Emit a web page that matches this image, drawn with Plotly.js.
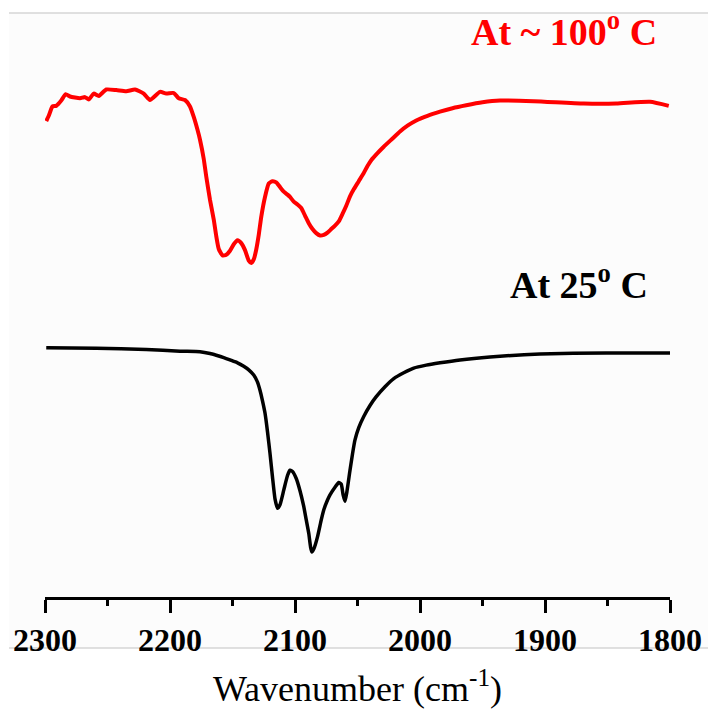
<!DOCTYPE html>
<html>
<head>
<meta charset="utf-8">
<script src="https://cdn.plot.ly/plotly-3.0.1.min.js"></script>
<style>
  html, body { margin: 0; padding: 0; background: #ffffff; }
  #chart { width: 708px; height: 709px; }
</style>
</head>
<body>
<div id="chart"></div>
<script>
// FTIR spectra (offset transmittance, arbitrary units) in the C≡N / CO stretching region

// Spectrum recorded at ~100 °C
const wnHot = [2299, 2297, 2294, 2291, 2287, 2283.5, 2280, 2272, 2268, 2265, 2261, 2257, 2251,
  2243, 2235, 2228, 2221, 2216, 2208, 2203, 2197, 2193, 2188, 2184, 2181, 2178, 2176, 2173,
  2171, 2168, 2165, 2163, 2161, 2158, 2155, 2152, 2149, 2146, 2143, 2140, 2137, 2135, 2133,
  2131, 2129, 2127, 2124, 2121, 2118, 2115, 2112, 2109, 2106, 2104, 2101, 2098, 2095, 2092,
  2089, 2086, 2083, 2080, 2077, 2074, 2071, 2068, 2065, 2062, 2059, 2056, 2053, 2049, 2045,
  2042, 2039, 2034, 2029, 2022, 2016, 2010, 2003, 1994, 1984, 1974, 1963, 1950, 1936, 1909,
  1869, 1843, 1816, 1801];
const tHot = [81.5, 82.4, 84.0, 84.1, 85.0, 86.1, 85.7, 85.4, 85.6, 85.2, 86.2, 85.8, 86.9,
  86.8, 86.6, 86.9, 86.2, 85.1, 86.5, 86.2, 86.3, 85.4, 85.1, 84.0, 82.2, 80.0, 78.3, 75.0,
  72.0, 68.0, 64.6, 61.8, 59.6, 58.5, 58.6, 59.3, 60.4, 61.1, 60.6, 59.4, 57.6, 57.2, 57.8,
  59.5, 62.0, 65.1, 68.5, 70.8, 71.2, 71.0, 70.2, 69.4, 68.9, 68.5, 67.7, 67.2, 66.6, 65.3,
  64.0, 63.0, 62.3, 61.9, 62.0, 62.4, 63.0, 63.6, 64.3, 65.6, 67.0, 68.6, 69.8, 71.2, 72.6,
  73.8, 74.8, 76.0, 77.1, 78.5, 79.7, 80.7, 81.6, 82.4, 83.1, 83.7, 84.2, 84.7, 85.0, 84.9,
  84.5, 84.5, 84.8, 84.1];

// Spectrum recorded at 25 °C
const wnRT = [2299, 2259, 2219, 2192, 2176, 2168, 2163, 2157, 2152, 2146, 2141, 2137, 2133,
  2130, 2128, 2126, 2124, 2122, 2120, 2118, 2116, 2114, 2112, 2109, 2106, 2104, 2102, 2099,
  2096, 2093, 2091, 2089, 2087.5, 2086.5, 2085, 2082, 2079, 2077, 2074, 2072, 2068, 2065,
  2063, 2061.5, 2060, 2058.5, 2056, 2054, 2052, 2049, 2045, 2040, 2035, 2028, 2021, 2013,
  2005, 1995, 1984, 1968, 1944, 1904, 1851, 1800];
const tRT = [42.7, 42.6, 42.4, 42.1, 42.0, 41.7, 41.4, 41.0, 40.6, 40.1, 39.5, 38.9, 38.0,
  36.8, 35.4, 33.6, 31.5, 28.3, 24.6, 20.5, 16.8, 15.2, 15.8, 18.3, 20.8, 21.7, 21.5, 20.3,
  18.2, 15.5, 13.2, 10.9, 8.5, 7.7, 8.2, 10.3, 13.2, 14.9, 16.6, 17.5, 18.8, 19.6,
  19.3, 17.5, 16.4, 18.0, 21.7, 24.5, 26.9, 29.0, 30.9, 32.8, 34.3, 36.0, 37.4, 38.4,
  39.2, 39.7, 40.1, 40.6, 41.1, 41.6, 41.8, 41.8];

const tickVals = [2300, 2200, 2100, 2000, 1900, 1800];
const tickText = ['2300', '2200', '2100', '2000', '1900', '1800'];

const serif = '"Liberation Serif", "Times New Roman", serif';

const traces = [
  {
    x: wnHot, y: tHot, type: 'scatter', mode: 'lines', name: 'At ~100 °C',
    line: { color: '#ff0000', width: 4, shape: 'spline', smoothing: 0.5 },
    hoverinfo: 'skip'
  },
  {
    x: wnRT, y: tRT, type: 'scatter', mode: 'lines', name: 'At 25 °C',
    line: { color: '#000000', width: 3.5, shape: 'spline', smoothing: 0.5 },
    hoverinfo: 'skip'
  }
];

const layout = {
  width: 708, height: 709,
  margin: { l: 45, r: 38, t: 13, b: 112 },
  paper_bgcolor: '#ffffff',
  plot_bgcolor: 'rgba(0,0,0,0)',
  showlegend: false,
  xaxis: {
    range: [2300, 1800],
    tickmode: 'array', tickvals: tickVals, ticktext: tickText.map(t => '<b>' + t + '</b>'),
    ticks: 'outside', ticklen: 13, tickwidth: 3, tickcolor: '#000',
    showline: true, linewidth: 3, linecolor: '#000',
    showgrid: false, zeroline: false,
    tickfont: { family: serif, size: 32, color: '#000' },
    minor: { dtick: 50, tick0: 1800, ticks: 'outside', ticklen: 6, tickwidth: 3, tickcolor: '#000', showgrid: false },
    title: {
      text: 'Wavenumber (cm<sup>-1</sup>)',
      font: { family: serif, size: 36, color: '#000' },
      standoff: 20
    }
  },
  yaxis: { range: [0, 100], visible: false, fixedrange: true },
  shapes: [
    { type: 'rect', xref: 'paper', yref: 'paper', x0: -0.0576, x1: 1.0608, y0: -0.0873, y1: 1.0,
      fillcolor: '#fcfcfc', line: { width: 0 }, layer: 'below' },
    { type: 'line', xref: 'paper', yref: 'paper', x0: -0.0576, x1: 1.0608, y0: 1.0, y1: 1.0,
      line: { color: '#d6d6d6', width: 1.5 }, layer: 'below' },
    { type: 'line', xref: 'paper', yref: 'paper', x0: -0.0576, x1: 1.0608, y0: -0.0873, y1: -0.0873,
      line: { color: '#d6d6d6', width: 1.5 }, layer: 'below' }
  ],
  annotations: [
    { text: '<b>At ~ 100<sup>o</sup> C</b>', x: 0.830, y: 0.972, xref: 'paper', yref: 'paper',
      showarrow: false, xanchor: 'center', yanchor: 'middle',
      font: { family: serif, size: 38, color: '#ff0000' } },
    { text: '<b>At 25<sup>o</sup> C</b>', x: 0.855, y: 0.540, xref: 'paper', yref: 'paper',
      showarrow: false, xanchor: 'center', yanchor: 'middle',
      font: { family: serif, size: 38, color: '#000000' } }
  ]
};

Plotly.newPlot('chart', traces, layout, { staticPlot: true, displayModeBar: false });
</script>
</body>
</html>
